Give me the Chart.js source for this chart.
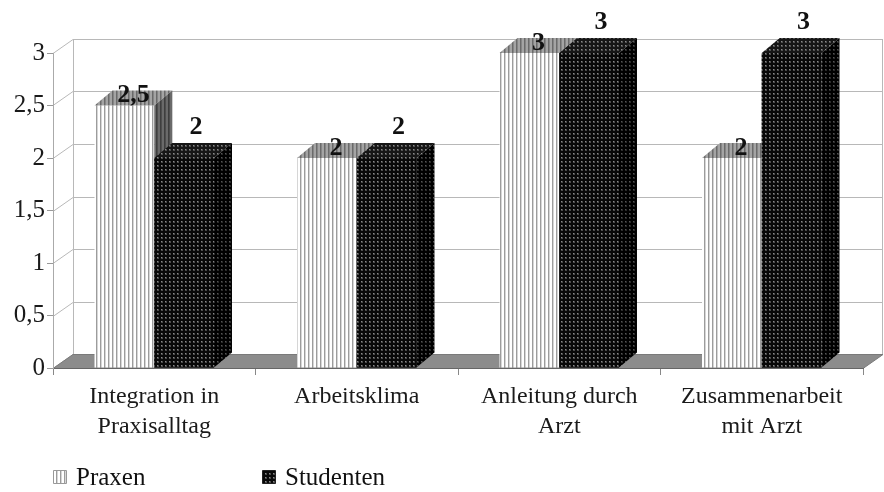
<!DOCTYPE html>
<html>
<head>
<meta charset="utf-8">
<script src="https://cdn.jsdelivr.net/npm/chart.js@4.4.1/dist/chart.umd.min.js"></script>
<style>
  html, body { margin: 0; padding: 0; background: #fff; }
  #wrap { width: 884px; height: 492px; }
</style>
</head>
<body>
<div id="wrap"><canvas id="c" width="884" height="492"></canvas></div>
<script>
// ---- data ----
const categories = [
  ['Integration in', 'Praxisalltag'],
  'Arbeitsklima',
  ['Anleitung durch', 'Arzt'],
  ['Zusammenarbeit', 'mit Arzt']
];
const seriesNames = ['Praxen', 'Studenten'];
const praxenValues = [2.5, 2, 3, 2];
const studentenValues = [2, 2, 3, 3];
const yTickValues = [0, 0.5, 1, 1.5, 2, 2.5, 3];
const yTickLabels = ['0', '0,5', '1', '1,5', '2', '2,5', '3'];

// ---- look ----
const FONT = "'Liberation Serif', 'Times New Roman', serif";
const WALL_DX = 20, WALL_DY = -14;   // depth of walls / floor
const BAR_DX = 18, BAR_DY = -15;     // depth of the columns

const canvas = document.getElementById('c');
const ctx = canvas.getContext('2d');

function makePattern(w, h, paint) {
  const c = document.createElement('canvas');
  c.width = w; c.height = h;
  const g = c.getContext('2d');
  paint(g);
  return ctx.createPattern(c, 'repeat');
}
function stripes(cols) {
  return makePattern(cols.length, 1, g => {
    cols.forEach((col, i) => { g.fillStyle = col; g.fillRect(i, 0, 1, 1); });
  });
}
function dots(bg, dot, soft) {
  return makePattern(4, 4, g => {
    g.fillStyle = bg; g.fillRect(0, 0, 4, 4);
    g.fillStyle = soft; g.fillRect(1, 1, 2, 2);
    g.fillStyle = dot; g.fillRect(1, 1, 1, 1);
  });
}

const fills = {
  Praxen: {
    front: stripes(['#9c9c9c', '#d6d6d6', '#ffffff', '#ffffff']),
    top:   stripes(['#6a6a6a', '#858585', '#a4a4a4', '#a4a4a4']),
    side:  stripes(['#3e3e3e', '#4e4e4e', '#6a6a6a', '#6a6a6a'])
  },
  Studenten: {
    front: dots('#080808', '#8a8a8a', '#4a4a4a'),
    top:   dots('#161616', '#8a8a8a', '#505050'),
    side:  dots('#000000', '#555555', '#2a2a2a')
  }
};

function fmt(v) { return String(v).replace('.', ','); }

function poly(c, pts, fill, stroke) {
  c.beginPath();
  c.moveTo(pts[0][0], pts[0][1]);
  for (let i = 1; i < pts.length; i++) c.lineTo(pts[i][0], pts[i][1]);
  c.closePath();
  if (fill) { c.fillStyle = fill; c.fill(); }
  if (stroke) { c.strokeStyle = stroke; c.lineWidth = 1; c.stroke(); }
}

// walls, floor and back-wall gridlines
const walls3d = {
  id: 'walls3d',
  beforeDraw(chart) {
    const { ctx: c, chartArea: a, scales } = chart;
    const y = scales.y;
    c.save();
    c.strokeStyle = '#b8b8b8';
    c.lineWidth = 1;
    yTickValues.forEach(v => {
      const py = Math.round(y.getPixelForValue(v)) + 0.5;
      c.beginPath();
      c.moveTo(a.left, py);
      c.lineTo(a.left + WALL_DX, py + WALL_DY);
      c.lineTo(a.right + WALL_DX, py + WALL_DY);
      c.stroke();
    });
    // back wall edges
    const top = Math.round(y.getPixelForValue(3)) + 0.5 + WALL_DY;
    const bot = Math.round(y.getPixelForValue(0)) + 0.5 + WALL_DY;
    c.beginPath();
    c.moveTo(a.left + WALL_DX + 0.5, top); c.lineTo(a.left + WALL_DX + 0.5, bot);
    c.moveTo(a.right + WALL_DX - 0.5, top); c.lineTo(a.right + WALL_DX - 0.5, bot);
    c.stroke();
    // floor
    const f = Math.round(y.getPixelForValue(0)) + 0.5;
    poly(c, [[a.left, f], [a.right, f], [a.right + WALL_DX, f + WALL_DY], [a.left + WALL_DX, f + WALL_DY]],
      '#8c8c8c', '#7a7a7a');
    c.restore();
  }
};

function drawFaces(c, el, f) {
  const l = el.x - el.width / 2, r = el.x + el.width / 2;
  const t = el.y, b = el.base;
  poly(c, [[l, t], [l + BAR_DX, t + BAR_DY], [r + BAR_DX, t + BAR_DY], [r, t]], f.top);
  poly(c, [[r, t], [r + BAR_DX, t + BAR_DY], [r + BAR_DX, b + BAR_DY], [r, b]], f.side);
}

// top and side faces of the columns; the right-hand series is painted last so it hides the
// side faces of its left neighbour
const columns3d = {
  id: 'columns3d',
  afterDatasetsDraw(chart) {
    const c = chart.ctx;
    c.save();
    const metaP = chart.getDatasetMeta(0);
    const metaS = chart.getDatasetMeta(1);
    metaP.data.forEach(el => drawFaces(c, el, fills.Praxen));
    metaS.data.forEach(el => { el.draw(c); drawFaces(c, el, fills.Studenten); });
    c.restore();

    // value labels
    c.save();
    c.font = 'bold 26px ' + FONT;
    c.fillStyle = '#111';
    c.textAlign = 'center';
    c.textBaseline = 'middle';
    chart.data.datasets.forEach((ds, i) => {
      const meta = chart.getDatasetMeta(i);
      const off = i === 0 ? [9, -10] : [12, -31];
      meta.data.forEach((el, j) => {
        c.fillText(fmt(ds.data[j]), el.x + off[0], el.y + off[1]);
      });
    });
    c.restore();
  },
  afterDraw(chart) {
    const c = chart.ctx;
    c.save();
    c.font = '25px ' + FONT;
    c.textBaseline = 'middle';
    const items = [[53, seriesNames[0]], [262, seriesNames[1]]];
    items.forEach(([x, name]) => {
      const y = 470;
      poly(c, [[x + 0.5, y + 0.5], [x + 13.5, y + 0.5], [x + 13.5, y + 13.5], [x + 0.5, y + 13.5]],
        fills[name].front, name === 'Praxen' ? '#999' : '#222');
      c.fillStyle = '#111';
      c.fillText(name, x + 23, y + 8);
    });
    c.restore();
  }
};

new Chart(canvas, {
  type: 'bar',
  data: {
    labels: categories,
    datasets: [
      { label: seriesNames[0], data: praxenValues, backgroundColor: fills.Praxen.front, borderWidth: 0 },
      { label: seriesNames[1], data: studentenValues, backgroundColor: fills.Studenten.front, borderWidth: 0 }
    ]
  },
  options: {
    responsive: false,
    animation: false,
    devicePixelRatio: 1,
    categoryPercentage: 0.59,
    barPercentage: 1,
    layout: { padding: { top: 53, right: 21, left: 0, bottom: 0 } },
    plugins: { legend: { display: false }, tooltip: { enabled: false } },
    scales: {
      x: {
        grid: { offset: true, drawOnChartArea: false, drawTicks: true, tickLength: 7, color: '#888' },
        border: { display: true, color: '#666' },
        ticks: { font: { family: FONT, size: 24, lineHeight: 1.25 }, color: '#1a1a1a', padding: 7, maxRotation: 0, autoSkip: false },
        afterFit(s) { s.height = 124; }
      },
      y: {
        min: 0, max: 3,
        grid: { drawOnChartArea: false, drawTicks: true, tickLength: 6, color: '#999' },
        border: { display: true, color: '#aaa' },
        ticks: {
          stepSize: 0.5,
          font: { family: FONT, size: 25 },
          color: '#1a1a1a',
          padding: 2,
          callback: v => yTickLabels[yTickValues.indexOf(v)] ?? fmt(v)
        },
        afterFit(s) { s.width = 53; }
      }
    }
  },
  plugins: [walls3d, columns3d]
});
</script>
</body>
</html>
